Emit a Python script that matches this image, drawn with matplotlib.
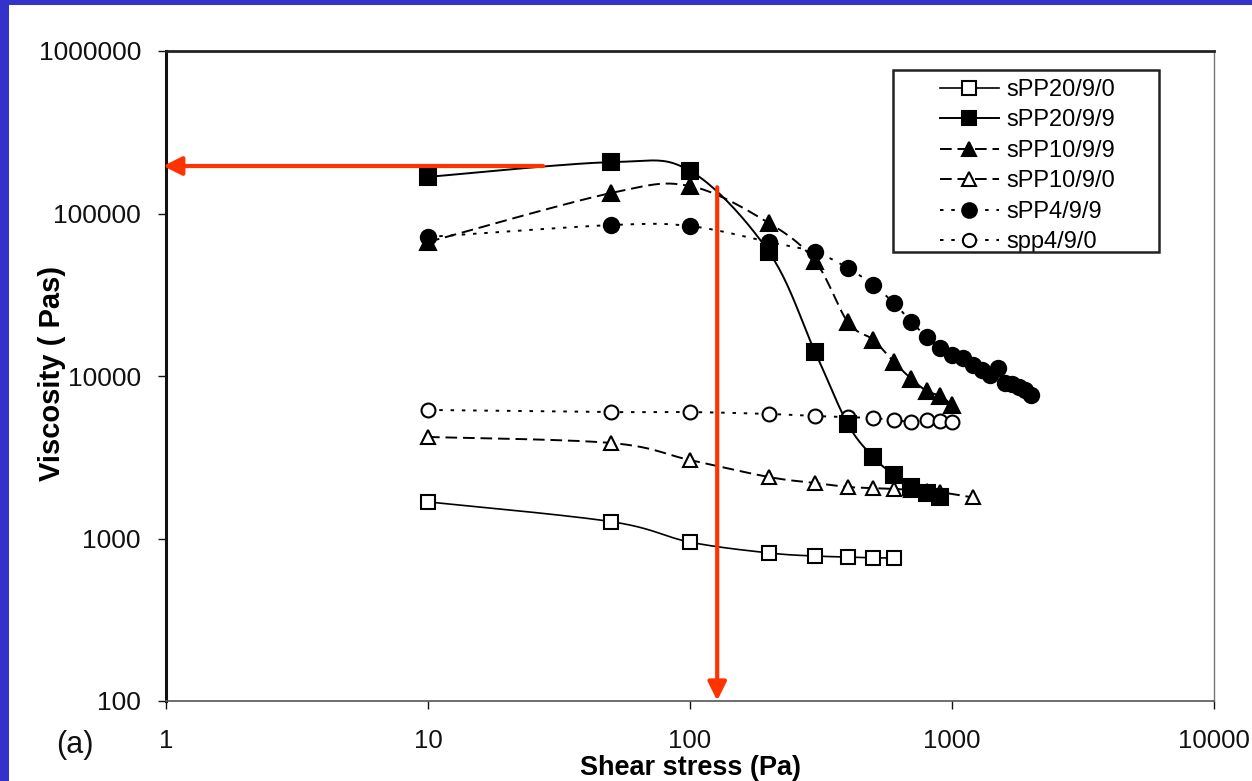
import numpy as np
import matplotlib
matplotlib.use("Agg")
import matplotlib.pyplot as plt
from matplotlib.patches import Rectangle
from matplotlib.lines import Line2D
from matplotlib.ticker import FixedLocator, FixedFormatter, NullLocator

plt.rcParams['font.family'] = ['Liberation Sans', 'DejaVu Sans']

# ---------------- data ----------------
series_labels = ["sPP20/9/0", "sPP20/9/9", "sPP10/9/9", "sPP10/9/0", "sPP4/9/9", "spp4/9/0"]

shear_sPP20_9_0 = [10, 50, 100, 200, 300, 400, 500, 600]
visc_sPP20_9_0 = [1680, 1270, 950, 815, 780, 770, 760, 760]

shear_sPP20_9_9 = [10, 50, 100, 200, 300, 400, 500, 600, 700, 800, 900]
visc_sPP20_9_9 = [168000, 207000, 183000, 58000, 14100, 5070, 3175, 2460, 2075, 1905, 1800]

shear_sPP10_9_9 = [10, 50, 100, 200, 300, 400, 500, 600, 700, 800, 900, 1000]
visc_sPP10_9_9 = [66800, 133700, 147600, 87400, 51000, 21500, 16700, 12200, 9590, 8090, 7540, 6630]

shear_sPP10_9_0 = [10, 50, 100, 200, 300, 400, 500, 600, 700, 800, 900, 1200]
visc_sPP10_9_0 = [4215, 3870, 3040, 2390, 2195, 2075, 2045, 2020, 1990, 1960, 1930, 1790]

shear_sPP4_9_9 = [10, 50, 100, 200, 300, 400, 500, 600, 700, 800, 900, 1000,
                  1100, 1200, 1300, 1400, 1500, 1600, 1700, 1800, 1900, 2000]
visc_sPP4_9_9 = [71700, 84900, 83700, 66800, 57900, 46200, 36300, 28100, 21500, 17400, 14900, 13450,
                 12900, 11700, 10900, 10140, 11200, 9060, 8900, 8550, 8200, 7640]

shear_spp4_9_0 = [10, 50, 100, 200, 300, 400, 500, 600, 700, 800, 900, 1000]
visc_spp4_9_0 = [6180, 6000, 6000, 5840, 5670, 5590, 5510, 5360, 5210, 5360, 5290, 5210]

x_ticks = [1, 10, 100, 1000, 10000]
x_tick_labels = ["1", "10", "100", "1000", "10000"]
y_ticks = [100, 1000, 10000, 100000, 1000000]
y_tick_labels = ["100", "1000", "10000", "100000", "1000000"]

# annotation arrows (start -> end) in data units
arrow_h_start = (27.5, 196000)
arrow_h_end = (0.975, 196000)
arrow_v_start = (127, 145000)
arrow_v_end = (127, 100.5)


def smooth(x, y, n=24):
    P = np.column_stack([np.log10(x), np.log10(y)])
    out = []
    t = np.linspace(0, 1, n, endpoint=False)[:, None]
    for i in range(len(P) - 1):
        p0 = P[i - 1] if i > 0 else P[i]
        p1, p2 = P[i], P[i + 1]
        p3 = P[i + 2] if i + 2 < len(P) else P[i + 1]
        c1 = p1 + (p2 - p0) / 6.0
        c2 = p2 - (p3 - p1) / 6.0
        seg = (1 - t) ** 3 * p1 + 3 * (1 - t) ** 2 * t * c1 + 3 * (1 - t) * t ** 2 * c2 + t ** 3 * p2
        out.append(seg)
    out.append(P[-1:])
    out = np.vstack(out)
    return 10 ** out[:, 0], 10 ** out[:, 1]


fig = plt.figure(figsize=(12.52, 7.81), dpi=100, facecolor='#3333cc')
fig.patches.append(Rectangle((9 / 1252, 0), 1 - 9 / 1252, 1 - 5 / 781,
                             transform=fig.transFigure, facecolor='white',
                             edgecolor='none', zorder=-10))
ax = fig.add_axes([166 / 1252, 80 / 781, 1048 / 1252, 650 / 781])
ax.set_facecolor('white')
ax.set_xscale('log')
ax.set_yscale('log')
ax.set_xlim(1, 10000)
ax.set_ylim(100, 1000000)

dash_tri = (0, (6, 3))
dot_circ = (0, (1.8, 4))

styles = [
    dict(x=shear_sPP20_9_0, y=visc_sPP20_9_0, ls='-', lw=1.2, marker='s', ms=10, mfc='white', z=3),
    dict(x=shear_sPP20_9_9, y=visc_sPP20_9_9, ls='-', lw=1.4, marker='s', ms=11, mfc='black', z=6),
    dict(x=shear_sPP10_9_9, y=visc_sPP10_9_9, ls=dash_tri, lw=1.4, marker='^', ms=11, mfc='black', z=5),
    dict(x=shear_sPP10_9_0, y=visc_sPP10_9_0, ls=dash_tri, lw=1.4, marker='^', ms=10, mfc='white', z=4),
    dict(x=shear_sPP4_9_9, y=visc_sPP4_9_9, ls=dot_circ, lw=1.4, marker='o', ms=11, mfc='black', z=5),
    dict(x=shear_spp4_9_0, y=visc_spp4_9_0, ls=dot_circ, lw=1.4, marker='o', ms=10, mfc='white', z=3),
]

handles = []
for s, lab in zip(styles, series_labels):
    sx, sy = smooth(s['x'], s['y'])
    ax.plot(sx, sy, color='black', ls=s['ls'], lw=s['lw'], zorder=2)
    ax.plot(s['x'], s['y'], ls='none', marker=s['marker'], ms=s['ms'],
            mfc=s['mfc'], mec='black', mew=1.5, zorder=s['z'])
    handles.append(Line2D([], [], color='black', ls=s['ls'], lw=s['lw'], marker=s['marker'],
                          ms=s['ms'] - 0.5, mfc=s['mfc'], mec='black', mew=1.5))

# ticks
ax.xaxis.set_major_locator(FixedLocator(x_ticks))
ax.xaxis.set_major_formatter(FixedFormatter(x_tick_labels))
ax.yaxis.set_major_locator(FixedLocator(y_ticks))
ax.yaxis.set_major_formatter(FixedFormatter(y_tick_labels))
ax.xaxis.set_minor_locator(NullLocator())
ax.yaxis.set_minor_locator(NullLocator())
ax.tick_params(axis='x', direction='out', length=6, width=1, labelsize=18.5, pad=14, colors='#111111')
ax.tick_params(axis='y', direction='out', length=6, width=1, labelsize=19, pad=12, colors='#111111')

for side, lw, col in [('top', 2.0, '#222222'), ('left', 2.2, '#111111'),
                      ('right', 1.0, '#777777'), ('bottom', 1.2, '#555555')]:
    ax.spines[side].set_linewidth(lw)
    ax.spines[side].set_color(col)

ax.set_xlabel('Shear stress (Pa)', fontsize=19.5, fontweight='bold', va='bottom')
ax.xaxis.set_label_coords(0.5, -0.1225)
ax.set_ylabel('Viscosity ( Pas)', fontsize=21, fontweight='bold', va='center')
ax.yaxis.set_label_coords(-0.1088, 0.5046)

# legend
ax.add_patch(Rectangle((0.694, 0.691), 0.2535, 0.28, transform=ax.transAxes,
                       fill=False, lw=1.8, edgecolor='#222222', zorder=7))
ax.legend(handles, series_labels, loc='upper left', bbox_to_anchor=(0.7385, 0.957),
          frameon=False, fontsize=17, handlelength=2.5, handletextpad=0.3,
          labelspacing=0.36, borderpad=0, borderaxespad=0)

# red arrows
red = '#ff3300'
ax.annotate('', xy=arrow_h_end, xytext=arrow_h_start, annotation_clip=False,
            arrowprops=dict(arrowstyle='-|>', color=red, lw=3, mutation_scale=28,
                            shrinkA=0, shrinkB=0), zorder=8)
ax.annotate('', xy=arrow_v_end, xytext=arrow_v_start, annotation_clip=False,
            arrowprops=dict(arrowstyle='-|>', color=red, lw=3, mutation_scale=28,
                            shrinkA=0, shrinkB=0), zorder=8)

fig.text(75 / 1252, 1 - 745 / 781, '(a)', fontsize=22, ha='center', va='center', color='#111111')

fig.savefig('out.png', dpi=100, facecolor=fig.get_facecolor())
